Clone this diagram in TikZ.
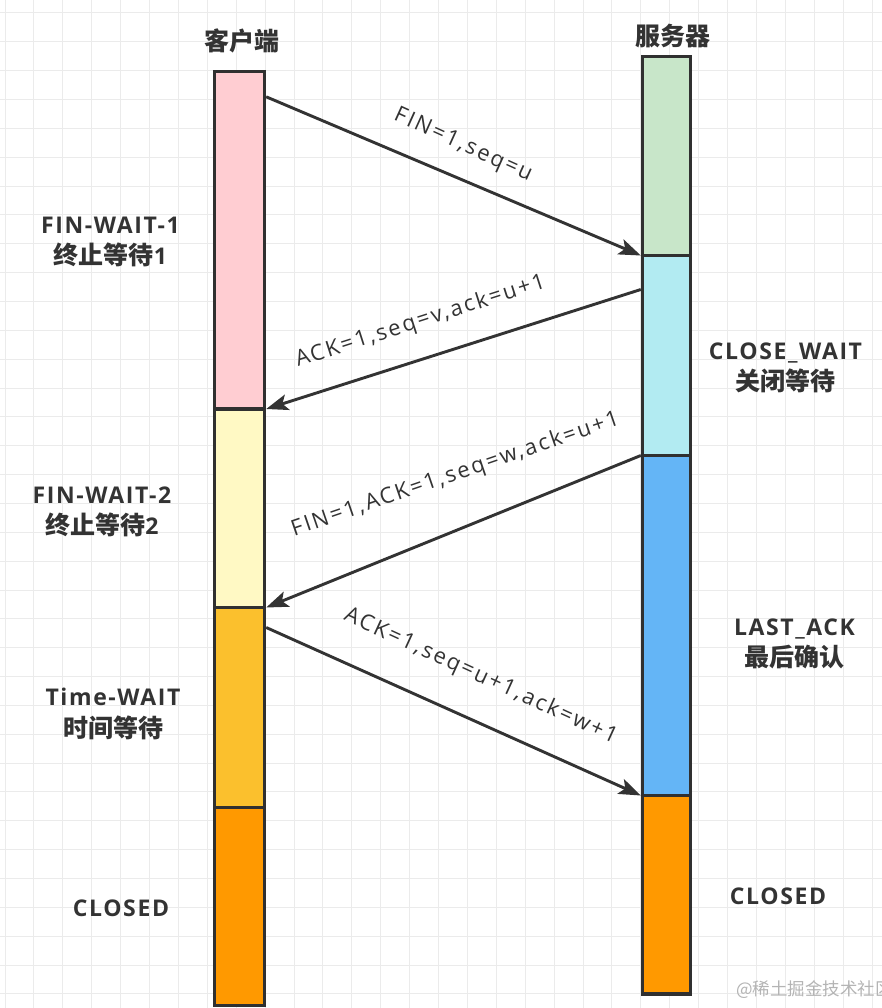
\documentclass[tikz,border=0pt]{standalone}
\usepackage{fontspec}
\setmainfont{Open Sans}
\newfontfamily\cjk{Noto Sans CJK SC}
\usetikzlibrary{arrows.meta,calc}
\definecolor{ink}{HTML}{333333}
\definecolor{border}{HTML}{303030}
\definecolor{gridc}{HTML}{EBEBEB}
\definecolor{cpink}{HTML}{FFCDD2}
\definecolor{cyellow}{HTML}{FFF9C4}
\definecolor{cgold}{HTML}{FBC02D}
\definecolor{corange}{HTML}{FF9900}
\definecolor{cgreen}{HTML}{C8E6C9}
\definecolor{ccyan}{HTML}{B2EBF2}
\definecolor{cblue}{HTML}{64B5F6}
\definecolor{wmc}{HTML}{B4B4B4}
\newcommand\zhtxt[1]{{\cjk\fontsize{25}{31.5}\selectfont #1}}
\begin{document}
\begin{tikzpicture}[x=1pt,y=-1pt,
  gridline/.style={draw=gridc, line width=1pt},
  seg/.style={draw=border, line width=3.4pt, inner sep=0pt, outer xsep=1.7pt, outer ysep=0pt},
  lseg/.style={seg, minimum width=50pt},
  rseg/.style={seg, minimum width=48pt},
  arr/.style={draw=ink, line width=2.9pt, -{Stealth[length=22pt,width=16pt,inset=5pt]}},
  lbl/.style={inner sep=0pt, text=ink, font=\fontsize{22}{26}\selectfont\addfontfeatures{LetterSpace=10}},
  st/.style={inner sep=0pt, text=ink, align=center, font=\fontsize{23}{31.5}\selectfont\bfseries\addfontfeatures{LetterSpace=7}},
  hdr/.style={inner sep=0pt, text=ink, font=\cjk\bfseries\fontsize{25}{30}\selectfont}
]
\useasboundingbox (0,0) rectangle (882,1008);
\fill[white] (0,0) rectangle (882,1008);
\foreach \i in {0,...,30} \draw[gridline] ({5+28.9*\i},0) -- ({5+28.9*\i},1008);
\foreach \j in {0,...,34} \draw[gridline] (0,{13+28.85*\j}) -- (882,{13+28.85*\j});

% client column
\node[lseg, fill=cpink,   minimum height=337.5pt] (pink)   at (239.5,240.25) {};
\node[lseg, fill=cyellow, minimum height=198.5pt] (yellow) at (239.5,508.25) {};
\node[lseg, fill=cgold,   minimum height=200pt]   (gold)   at (239.5,707.5) {};
\node[lseg, fill=corange, minimum height=198pt]   (cclosed) at (239.5,906.5) {};
% server column
\node[rseg, fill=cgreen,  minimum height=199pt]   (green)  at (666.5,156) {};
\node[rseg, fill=ccyan,   minimum height=200pt]   (cyan)   at (666.5,355.5) {};
\node[rseg, fill=cblue,   minimum height=340pt]   (blue)   at (666.5,625.5) {};
\node[rseg, fill=corange, minimum height=198.5pt] (sclosed) at (666.5,894.75) {};

% headers
\node[hdr] (cli) at (241.5,41) {客户端};
\node[hdr] (srv) at (672.5,36) {服务器};

% connectors
\draw[arr] ($(pink.north east)!0.075!(pink.south east)$) -- (green.south west);
\draw[arr] ($(cyan.north west)!0.17!(cyan.south west)$) -- (pink.south east);
\draw[arr] (cyan.south west) -- (yellow.south east);
\draw[arr] ($(gold.north east)!0.1!(gold.south east)$) -- (blue.south west);

% connector labels
\node[lbl, rotate=-24.3] (l1) at (463,145.8) {FIN=1,seq=u};
\node[lbl, rotate=17.8] (l2) at (420.5,321.6) {ACK=1,seq=v,ack=u+1};
\node[lbl, rotate=18.9] (l3) at (455.5,474.9) {FIN=1,ACK=1,seq=w,ack=u+1};
\node[lbl, rotate=-24.6] (l4) at (480.7,676.5) {ACK=1,seq=u+1,ack=w+1};

% state labels
\node[st] (fw1) at (110.5,241.8) {FIN-WAIT-1\\\zhtxt{终止等待}1};
\node[st] (fw2) at (102,512.1) {FIN-WAIT-2\\\zhtxt{终止等待}2};
\node[st] (tw) at (113,713.8) {Time-WAIT\\\zhtxt{时间等待}};
\node[st] (cl1) at (121,908) {CLOSED};
\node[st] (cw) at (785.5,368.1) {CLOSE\_WAIT\\\zhtxt{关闭等待}};
\node[st] (la) at (794.5,643.8) {LAST\_ACK\\\zhtxt{最后确认}};
\node[st] (cl2) at (778,896) {CLOSED};

% watermark
\node[anchor=west, inner sep=0pt, text=wmc, font=\cjk\fontsize{17.5}{20}\selectfont] (wm) at (736,990) {@稀土掘金技术社区};
\end{tikzpicture}
\end{document}
